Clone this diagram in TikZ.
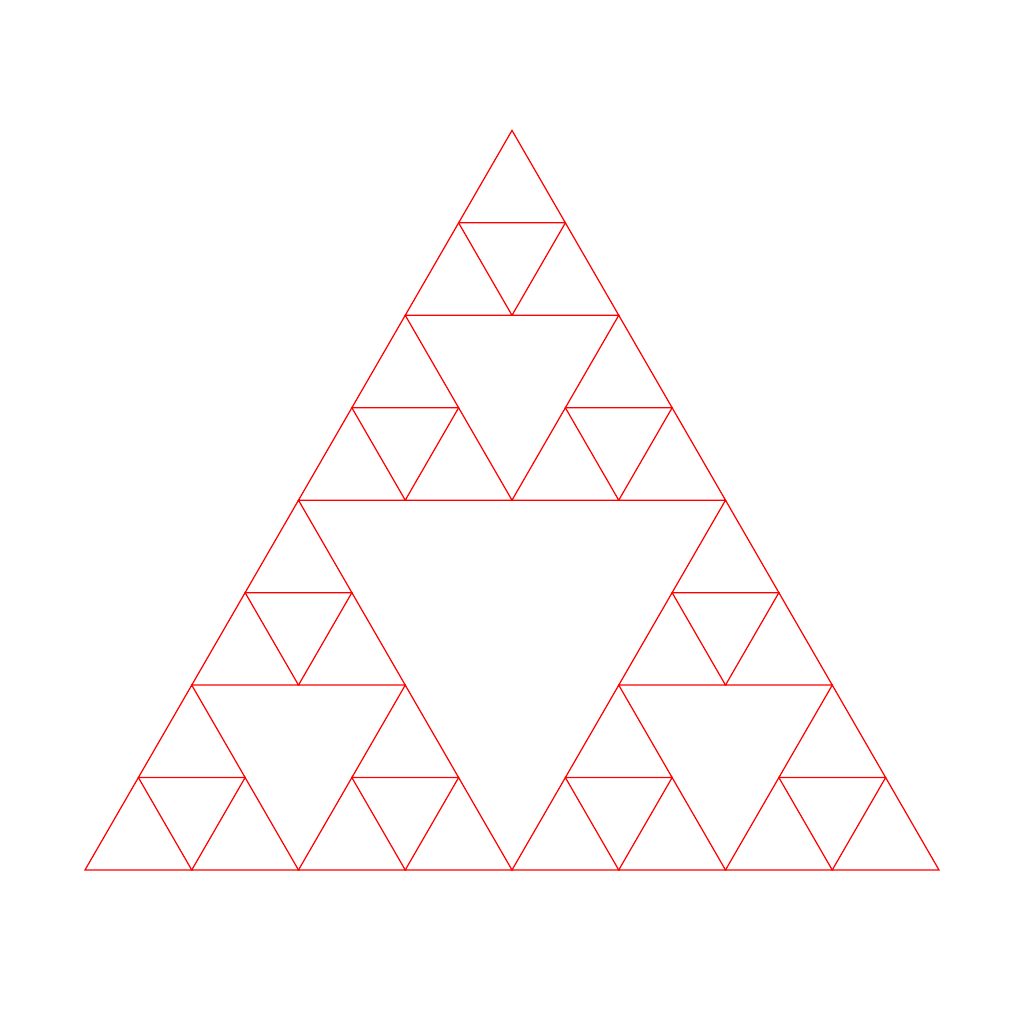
\documentclass[tikz,border=0pt]{standalone}
\begin{document}
\begin{tikzpicture}[
  tri/.style={draw=red, line width=0.35pt, line join=miter}
]
\useasboundingbox (0,0) rectangle (10.24,10.24);
% level 3 gasket: 27 smallest triangles, side 1 in scope units
\begin{scope}[shift={(0.85,1.54)}, x=1.0675cm, y=0.9245cm]
\foreach \ax/\ay in {0/0, 4/0, 2/4}
  \foreach \bx/\by in {0/0, 2/0, 1/2}
    \foreach \cx/\cy in {0/0, 1/0, 0.5/1}
      \draw[tri] (\ax+\bx+\cx, \ay+\by+\cy) -- ++(1,0) -- ++(-0.5,1) -- cycle;
\end{scope}
\end{tikzpicture}
\end{document}
